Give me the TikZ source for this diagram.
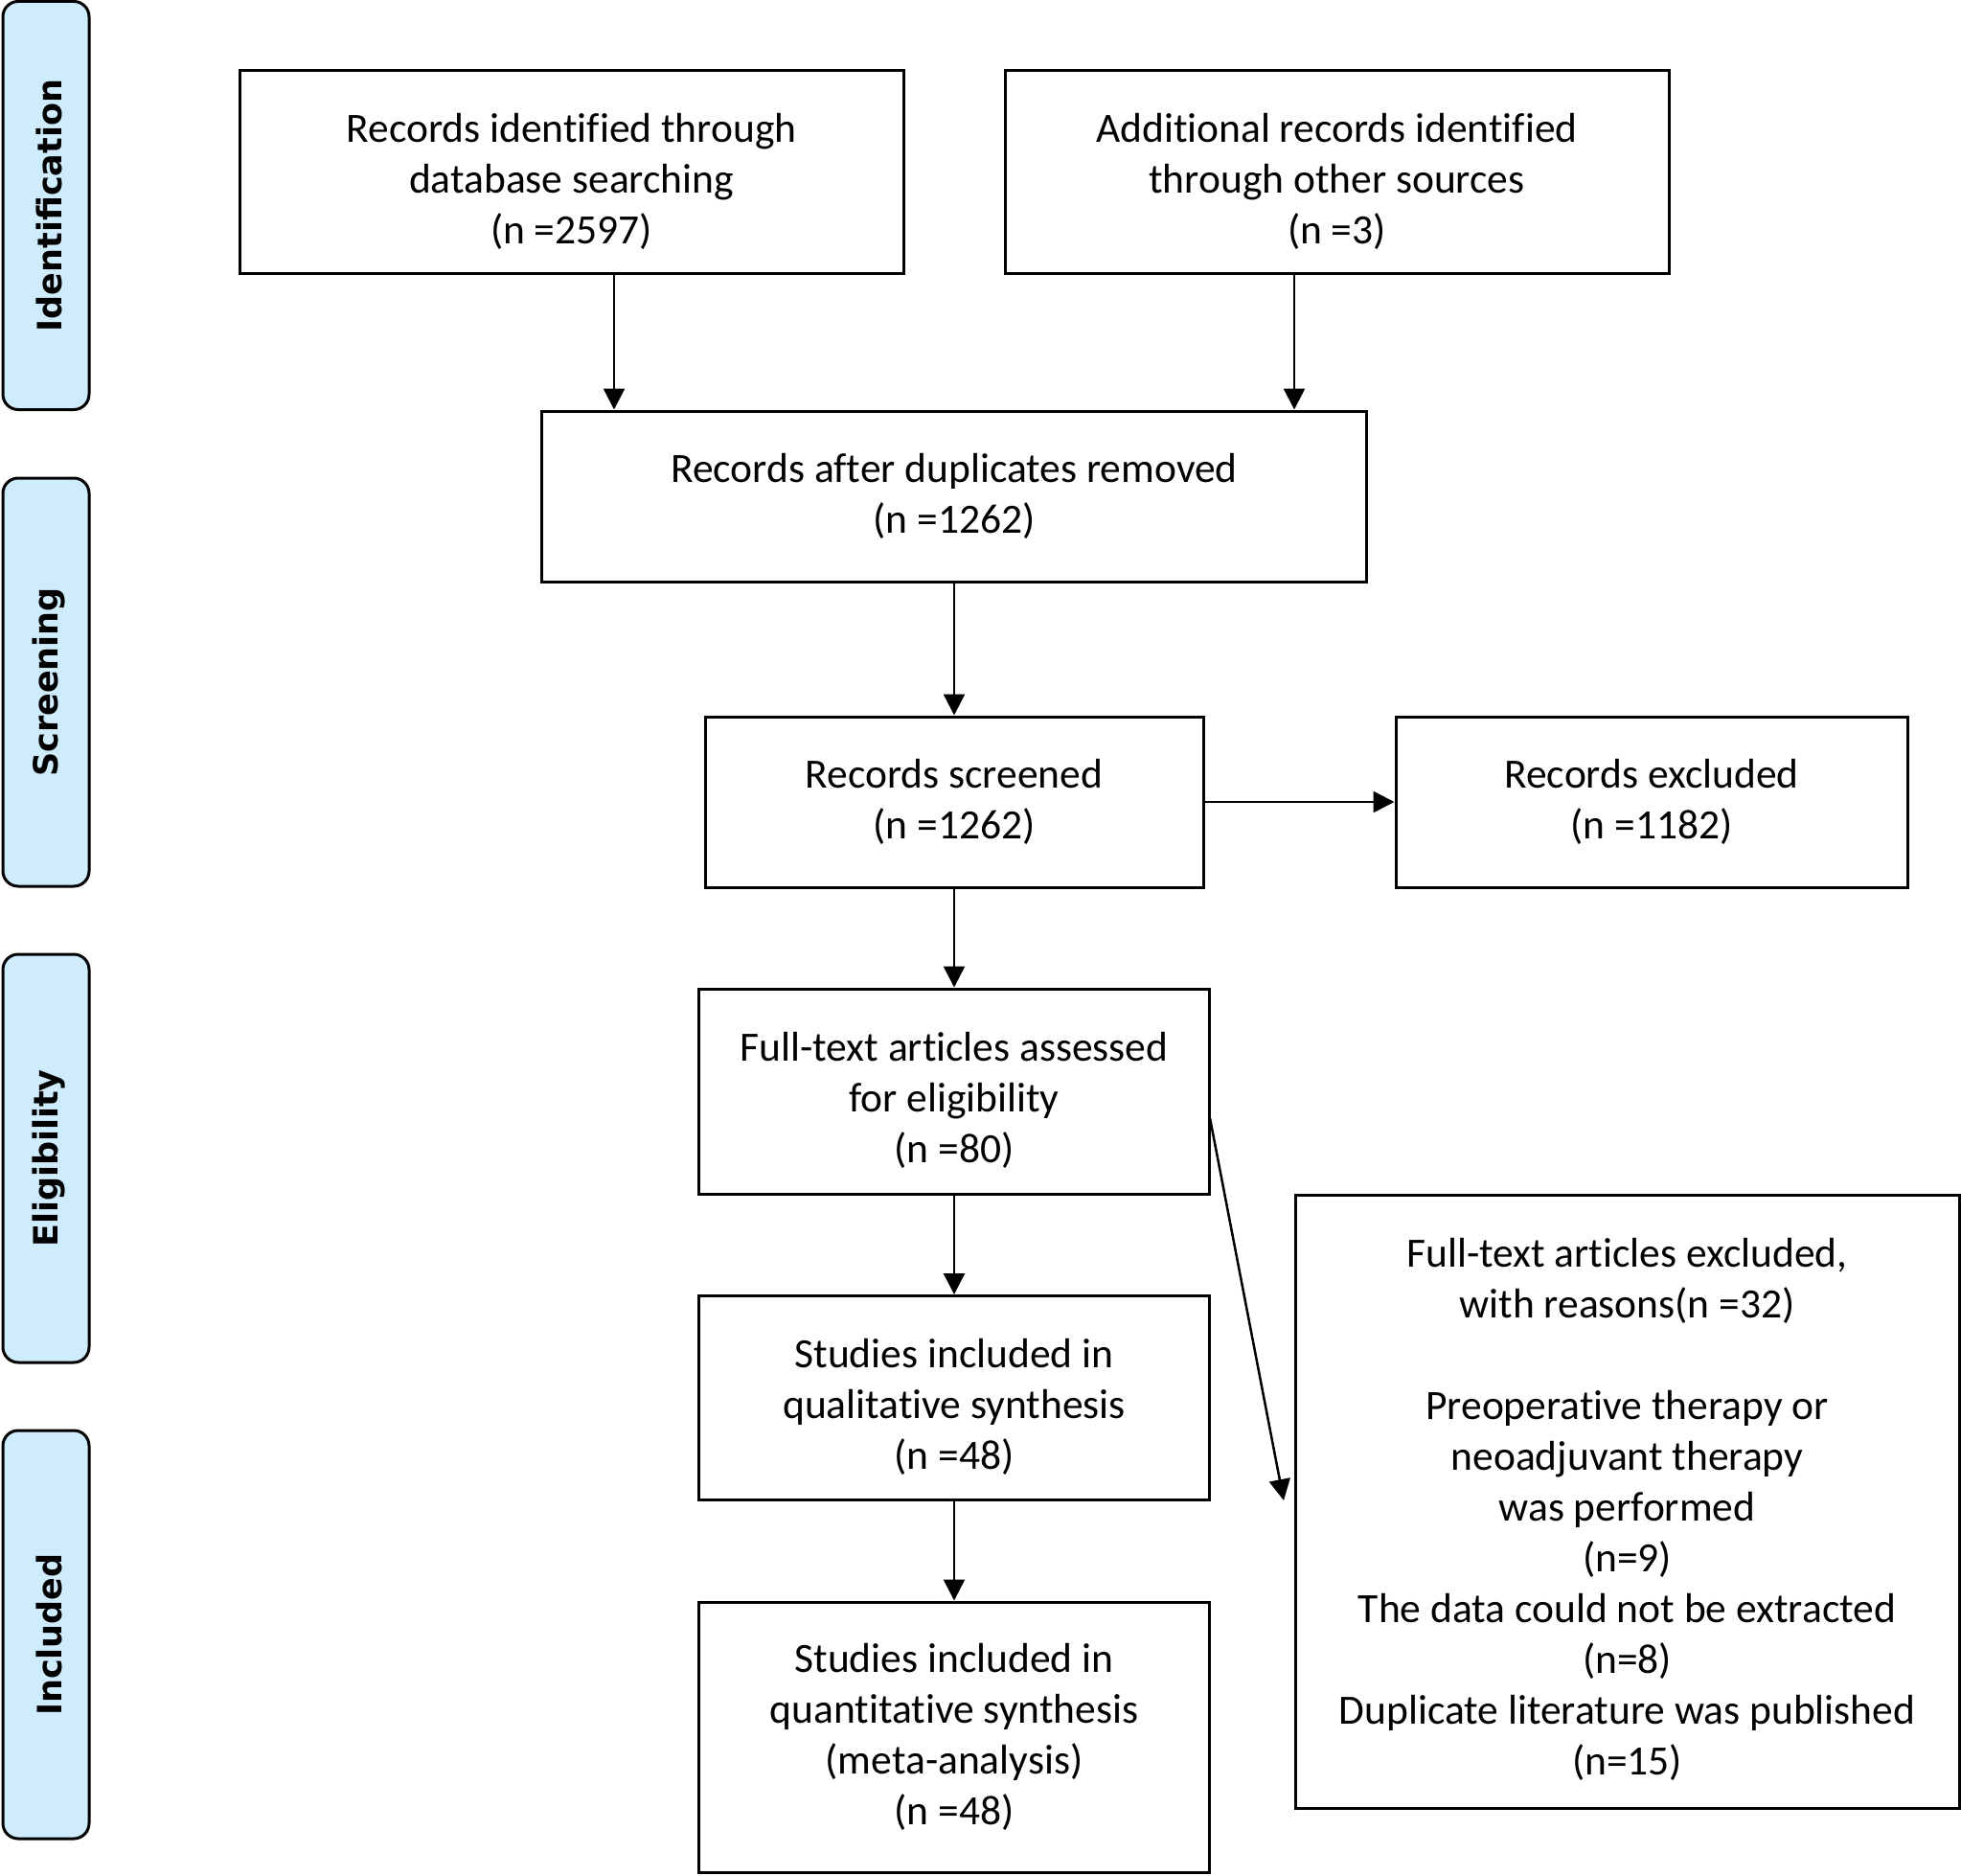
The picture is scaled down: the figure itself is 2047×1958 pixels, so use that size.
\documentclass[tikz,border=0pt]{standalone}
\usepackage{fontspec}
\setmainfont{Carlito}[Ligatures=NoCommon]
\newfontfamily\lanefont{DejaVu Sans}
\usetikzlibrary{arrows.meta}
\definecolor{laneblue}{RGB}{207,236,252}
\tikzset{
  box/.style={draw=black, line width=3pt, fill=white, inner sep=0pt},
  boxtext/.style={align=center, inner sep=0pt, font=\fontsize{43.5}{53}\selectfont},
  lane/.style={draw=black, line width=3pt, fill=laneblue, rounded corners=16pt,
    minimum width=90pt, minimum height=426pt, inner sep=0pt},
  lanetext/.style={rotate=90, font=\lanefont\bfseries\fontsize{35}{42}\selectfont, inner sep=0pt},
  arr/.style={line width=2.5pt, -{Triangle[length=22pt,width=22pt]}},
}
\begin{document}
\begin{tikzpicture}[x=1pt,y=-1pt]
\useasboundingbox (0,0) rectangle (2047,1958);
% lanes
\node[lane] (l1) at (48,214.5) {};
\node[lanetext] (t1) at ([xshift=3pt]l1.center) {Identification};
\node[lane] (l2) at (48,712) {};
\node[lanetext] (t2) at ([xshift=3pt]l2.center) {Screening};
\node[lane] (l3) at (48,1209) {};
\node[lanetext] (t3) at ([xshift=3pt]l3.center) {Eligibility};
\node[lane] (l4) at (48,1706) {};
\node[lanetext] (t4) at ([xshift=3pt]l4.center) {Included};
% boxes
\node[box, minimum width=693pt, minimum height=212pt] (b1) at (596.5,180) {};
\node[boxtext] (b1t) at ([yshift=-9pt]b1.center)
  {Records identified through\\database searching\\(n =2597)};
\node[box, minimum width=693pt, minimum height=212pt] (b2) at (1395.5,180) {};
\node[boxtext] (b2t) at ([yshift=-9pt]b2.center)
  {Additional records identified\\through other sources\\(n =3)};
\node[box, minimum width=861pt, minimum height=178pt] (b3) at (996,518) {};
\node[boxtext] (b3t) at (b3.center) {Records after duplicates removed\\(n =1262)};
\node[box, minimum width=520pt, minimum height=178pt] (b4) at (996,837) {};
\node[boxtext] (b4t) at (b4.center) {Records screened\\(n =1262)};
\node[box, minimum width=534pt, minimum height=178pt] (ex) at (1724,837) {};
\node[boxtext] (ext) at (ex.center) {Records excluded\\(n =1182)};
\node[box, minimum width=533pt, minimum height=214pt] (b5) at (996,1139) {};
\node[boxtext] (b5t) at ([yshift=-9pt]b5.center)
  {Full-text articles assessed\\for eligibility\\(n =80)};
\node[box, minimum width=693pt, minimum height=640pt] (b6) at (1698.5,1567) {};
\node[boxtext] (b6t) at ([yshift=-8pt]b6.center)
  {Full-text articles excluded,\\with reasons(n =32)\\[53pt]Preoperative therapy or\\neoadjuvant therapy\\was performed\\(n=9)\\The data could not be extracted\\(n=8)\\Duplicate literature was published\\(n=15)};
\node[box, minimum width=533pt, minimum height=213pt] (b7) at (996,1459) {};
\node[boxtext] (b7t) at ([yshift=-9pt]b7.center)
  {Studies included in\\qualitative synthesis\\(n =48)};
\node[box, minimum width=533pt, minimum height=282pt] (b8) at (996,1813) {};
\node[boxtext] (b8t) at (b8.center)
  {Studies included in\\quantitative synthesis\\(meta-analysis)\\(n =48)};
% arrows
\coordinate (a1) at (641,300);
\draw[arr] (b1.south -| a1) -- (b3.north -| a1);
\coordinate (a2) at (1351,300);
\draw[arr] (b2.south -| a2) -- (b3.north -| a2);
\draw[arr] (b3) -- (b4);
\draw[arr] (b4) -- (ex);
\draw[arr] (b4) -- (b5);
\draw[arr] (b5) -- (b7);
\draw[arr] (b7) -- (b8);
\coordinate (ds) at (1263,1167);
\coordinate (de) at (1340,1566);
\draw[arr] (ds) -- (de);
\end{tikzpicture}
\end{document}
